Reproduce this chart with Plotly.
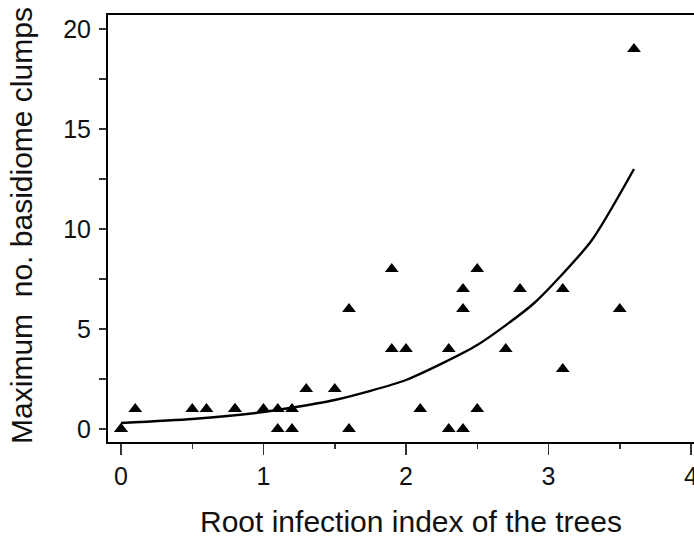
import plotly.graph_objects as go

# Observed data points (root infection index, max no. basidiome clumps)
obs_x = [0, 0, 0.1, 0.5, 0.6, 0.8, 0.8, 1.0, 1.1, 1.1, 1.2, 1.2, 1.3, 1.5, 1.6, 1.6,
         1.9, 1.9, 2.0, 2.1, 2.3, 2.3, 2.4, 2.4, 2.4, 2.5, 2.5, 2.7, 2.8, 3.1, 3.1, 3.5, 3.6]
obs_y = [0, 0, 1, 1, 1, 1, 1, 1, 1, 0, 1, 0, 2, 2, 6, 0,
         8, 4, 4, 1, 4, 0, 7, 6, 0, 8, 1, 4, 7, 7, 3, 6, 19]

# Fitted curve
fit_x = [0, 0.5, 1.0, 1.5, 2.0, 2.5, 2.9, 3.3, 3.6]
fit_y = [0.3, 0.5, 0.85, 1.45, 2.45, 4.2, 6.3, 9.4, 13.0]

x_ticks = [0, 1, 2, 3, 4]
y_ticks = [0, 5, 10, 15, 20]

x_title = "Root infection index of the trees"
y_title = "Maximum  no. basidiome clumps"

FONT = "Liberation Sans, Arial, sans-serif"
TXT = "#111"

# The original figure continues past the right edge of the 694 px view;
# the page is clipped at 694 px so the plot area's right border is not visible.
FIG_W, FIG_H = 760, 537
L, T, B = 108, 15, 95
plot_w = FIG_W - L
px_per_unit = 142.5
x0_px = 121

fig = go.Figure()
fig.add_trace(go.Scatter(x=fit_x, y=fit_y, mode="lines",
                         line=dict(color="black", width=2.4, shape="spline", smoothing=0.6),
                         hoverinfo="skip", showlegend=False))
fig.add_trace(go.Scatter(x=obs_x, y=obs_y, mode="markers",
                         marker=dict(symbol="triangle-up", size=12, color="black"),
                         showlegend=False))

fig.update_layout(
    template="none",
    width=FIG_W, height=FIG_H,
    margin=dict(l=L, r=0, t=T, b=B),
    paper_bgcolor="white", plot_bgcolor="white",
    font=dict(family=FONT, color=TXT, size=25),
    xaxis=dict(
        range=[(L - x0_px) / px_per_unit, (FIG_W - x0_px) / px_per_unit],
        tickvals=x_ticks, ticktext=[str(v) for v in x_ticks],
        automargin=False, ticklabeloverflow="allow",
        showgrid=False, zeroline=False, showline=True, linecolor="black", linewidth=2,
        mirror=True, ticks="outside", ticklen=11, tickwidth=1.5, tickcolor="#333",
        showspikes=False,
        minor=dict(dtick=0.5, tick0=0, ticklen=5, tickwidth=1.5, tickcolor="#333", showgrid=False),
        tickfont=dict(size=25, family=FONT, color=TXT),
    ),
    yaxis=dict(
        range=[-0.65, 20.7], tickvals=y_ticks, ticktext=[str(v) for v in y_ticks],
        automargin=False, ticklabeloverflow="allow",
        showgrid=False, zeroline=False, showline=True, linecolor="black", linewidth=2,
        mirror=False, ticks="outside", ticklen=7, tickwidth=1.5, tickcolor="#333",
        showspikes=False,
        minor=dict(dtick=2.5, tick0=0, ticklen=7, tickwidth=1.5, tickcolor="#333", showgrid=False),
        tickfont=dict(size=25, family=FONT, color=TXT),
        ticklabelstandoff=3,
    ),
    annotations=[
        dict(text=x_title, xref="paper", yref="paper",
             x=(411 - L) / plot_w, y=-0.187,
             xanchor="center", yanchor="middle", showarrow=False,
             font=dict(size=30, family=FONT, color=TXT)),
        dict(text=y_title, xref="paper", yref="paper",
             x=(22 - L) / plot_w, y=0.506,
             xanchor="center", yanchor="middle", showarrow=False, textangle=-90,
             font=dict(size=30, family=FONT, color=TXT)),
    ],
)

fig.write_html("out.html", config={"displayModeBar": False, "staticPlot": True},
               post_script="document.documentElement.style.overflow='hidden';"
                           "document.body.style.margin='0';document.body.style.overflow='hidden';")
